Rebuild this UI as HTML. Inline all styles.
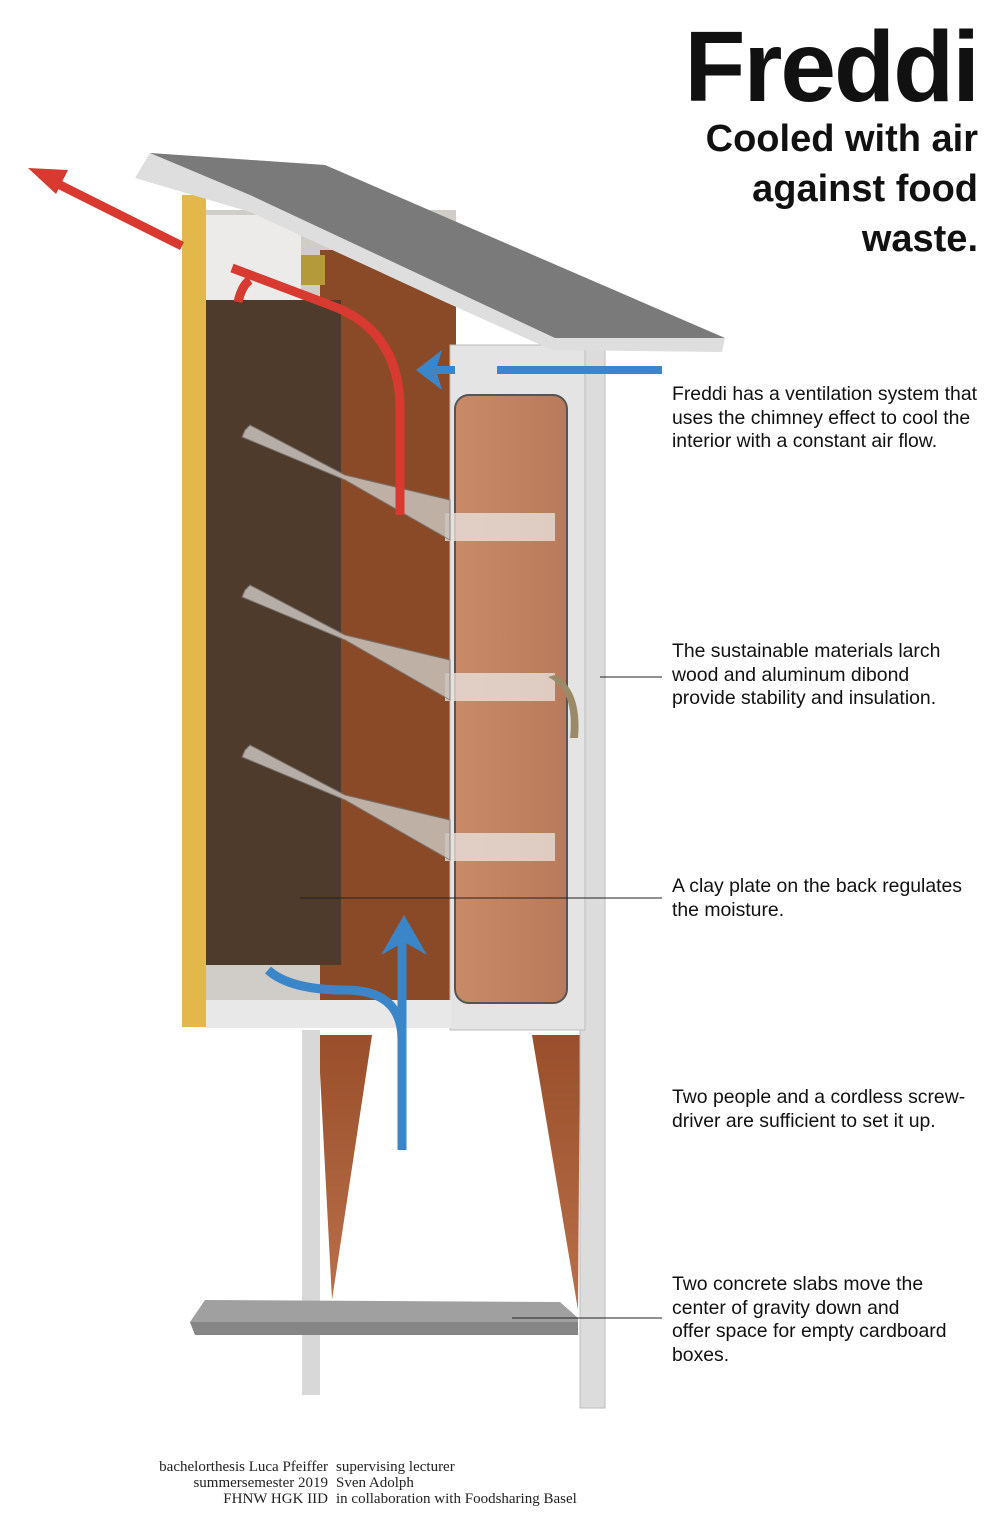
<!DOCTYPE html>
<html><head><style>
body{margin:0;background:#fff}
.w{position:relative;width:1000px;height:1538px;overflow:hidden;font-family:"Liberation Sans",sans-serif;background:#fff}
.t{position:absolute;font-size:19.4px;line-height:23.5px;color:#111}
.h{position:absolute;right:22px;text-align:right;font-weight:bold;color:#111}
.f{position:absolute;font-family:"Liberation Serif",serif;font-size:15px;line-height:16px;color:#222}
</style></head><body><div class="w">
<svg width="1000" height="1538" style="position:absolute;left:0;top:0">
<defs>
<linearGradient id="g" x1="0" y1="0" x2="0" y2="1"><stop offset="0" stop-color="#d83a32"/><stop offset="1" stop-color="#3b86c8"/></linearGradient>
<linearGradient id="door" x1="0" y1="0" x2="1" y2="0"><stop offset="0" stop-color="#c98a68"/><stop offset="1" stop-color="#b87a5a"/></linearGradient>
<linearGradient id="leg" x1="0" y1="0" x2="0" y2="1"><stop offset="0" stop-color="#9a4e2b"/><stop offset="1" stop-color="#b8704a"/></linearGradient>
</defs>
<polygon points="318,1035 372,1035 332,1300" fill="url(#leg)"/>
<polygon points="532,1035 580,1035 578,1310" fill="url(#leg)"/>
<rect x="302" y="1030" width="18" height="365" fill="#d8d8d8"/>
<rect x="580" y="350" width="25" height="1058" fill="#dcdcdc" stroke="#bbb"/>
<polygon points="190,1322 205,1300 560,1302 578,1318 578,1335 195,1335" fill="#a0a0a0"/>
<polygon points="190,1322 578,1322 578,1335 195,1335" fill="#858585"/>
<rect x="182" y="195" width="24" height="832" fill="#e3b84a"/>
<rect x="206" y="210" width="250" height="815" fill="#d0cdc8"/>
<rect x="320" y="250" width="136" height="750" fill="#8a4a28"/>
<rect x="206" y="300" width="135" height="665" fill="#4f3b2c"/>
<rect x="300" y="255" width="25" height="30" fill="#b59a3a"/>
<rect x="206" y="215" width="95" height="85" fill="#ecebea"/>
<rect x="450" y="345" width="135" height="685" fill="#e4e4e4" stroke="#bbb"/>
<rect x="455" y="395" width="112" height="608" rx="14" fill="url(#door)" stroke="#555" stroke-width="2"/>
<rect x="206" y="1000" width="245" height="28" fill="#e8e8e8"/>
<rect x="445" y="513" width="110" height="28" fill="#e7e0dc" opacity=".8"/>
<rect x="445" y="673" width="110" height="28" fill="#e7e0dc" opacity=".8"/>
<rect x="445" y="833" width="110" height="28" fill="#e7e0dc" opacity=".8"/>
<path d="M548,677 Q575,690 570,738 L578,738 Q582,690 555,675Z" fill="#9a8a6a"/>
<g fill="#c9c2bc" opacity=".85" stroke="#777">
<polygon points="245,430 250,425 345,475 450,500 450,540 345,480 242,437"/>
<polygon points="245,590 250,585 345,635 450,660 450,700 345,640 242,597"/>
<polygon points="245,750 250,745 345,795 450,820 450,860 345,800 242,757"/>
</g>
<polygon points="150,153 325,165 725,338 722,352 552,350 445,302 250,212 135,178" fill="#dedede"/>
<polygon points="150,153 325,165 725,338 555,338 250,195" fill="#7a7a7a"/>
<g fill="none" stroke-width="9">
<path d="M182,246 L50,180" stroke="#d83a32"/>
<path d="M400,515 V410 Q400,330 330,305 L232,268" stroke="#d83a32"/>
<path d="M403,515 V875" stroke="url(#g)"/>
<path d="M497,370 H662" stroke="#3b86c8" stroke-width="8"/>
<path d="M435,370 H455" stroke="#3b86c8" stroke-width="8"/>
<path d="M402,1150 V935" stroke="#3b86c8"/>
<path d="M268,970 Q290,990 345,990 Q402,990 402,1040" stroke="#3b86c8"/>
</g>
<polygon points="28,168 68,170 56,194" fill="#d83a32"/>
<path d="M238,302 Q242,285 250,280" stroke="#d83a32" stroke-width="9" fill="none"/>
<polygon points="416,370 442,350 436,370 442,390" fill="#3b86c8"/>
<polygon points="404,915 427,955 404,942 381,955" fill="#3b86c8"/>
<g stroke="#222" stroke-width="1">
<line x1="600" y1="677" x2="662" y2="677"/>
<line x1="300" y1="898" x2="662" y2="898"/>
<line x1="512" y1="1318" x2="662" y2="1318"/>
</g>
</svg>
<div class="h" style="top:12px;font-size:100px;line-height:110px;letter-spacing:-2px">Freddi</div>
<div class="h" style="top:114px;font-size:38px;line-height:50px">Cooled with air<br>against food<br>waste.</div>
<div class="t" style="left:672px;top:383px">Freddi has a ventilation system that<br>uses the chimney effect to cool the<br>interior with a constant air flow.</div>
<div class="t" style="left:672px;top:640px">The sustainable materials larch<br>wood and aluminum dibond<br>provide stability and insulation.</div>
<div class="t" style="left:672px;top:875px">A clay plate on the back regulates<br>the moisture.</div>
<div class="t" style="left:672px;top:1086px">Two people and a cordless screw-<br>driver are sufficient to set it up.</div>
<div class="t" style="left:672px;top:1273px">Two concrete slabs move the<br>center of gravity down and<br>offer space for empty cardboard<br>boxes.</div>
<div class="f" style="right:672px;top:1459px;text-align:right">bachelorthesis Luca Pfeiffer<br>summersemester 2019<br>FHNW HGK IID</div>
<div class="f" style="left:336px;top:1459px">supervising lecturer<br>Sven Adolph<br>in collaboration with Foodsharing Basel</div>
</div></body></html>
